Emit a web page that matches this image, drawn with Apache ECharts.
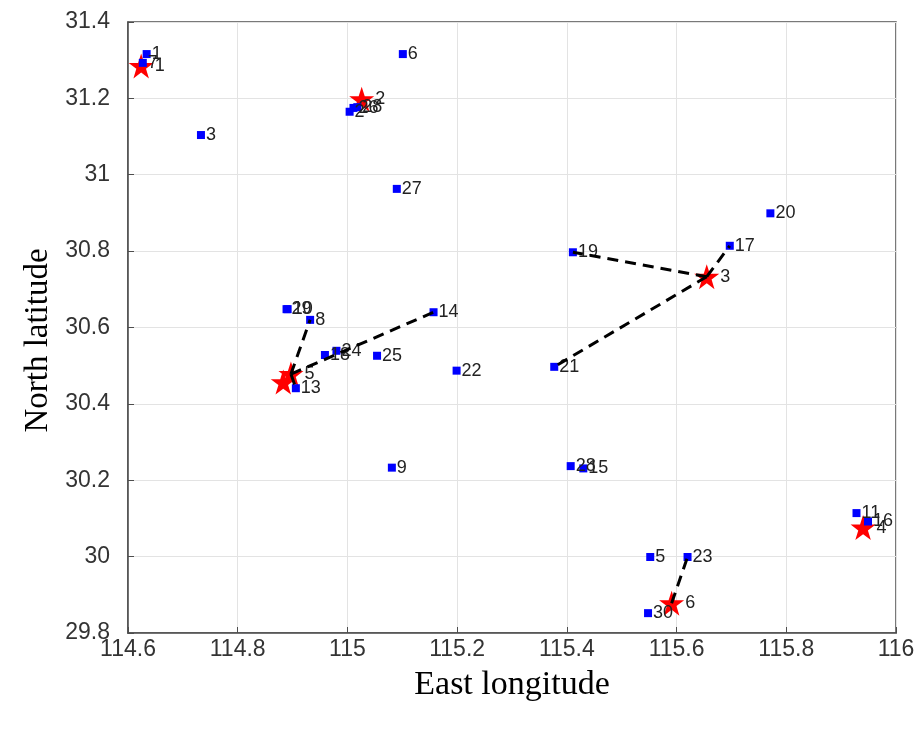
<!DOCTYPE html>
<html>
<head>
<meta charset="utf-8">
<script src="https://cdn.jsdelivr.net/npm/echarts@6/dist/echarts.min.js"></script>
<style>html,body{margin:0;padding:0;background:#fff;}#c{width:919px;height:731px;}</style>
</head>
<body>
<div id="c"></div>
<script>
// Customer points (blue squares)
const customerLabels = ['1','7','3','6','2','26','28','27','20','17','19','29','10','8','14','24','18','25','22','21','13','9','28','15','5','23','30','11','16'];
const customerLon = [114.634,114.627,114.733,115.101,115.004,115.011,115.018,115.090,115.771,115.697,115.411,114.889,114.891,114.932,115.157,114.980,114.959,115.054,115.199,115.377,114.906,115.081,115.407,115.430,115.552,115.620,115.548,115.928,115.949];
const customerLat = [31.316,31.293,31.104,31.316,31.165,31.175,31.177,30.963,30.899,30.814,30.797,30.648,30.648,30.620,30.640,30.539,30.528,30.526,30.487,30.497,30.441,30.233,30.237,30.231,29.999,29.999,29.852,30.114,30.092];

// Depots (red stars)
const depotLabels = ['1','2','3','4','','5','6'];
const depotLon = [114.624,115.026,115.655,115.940,114.883,114.897,115.591];
const depotLat = [31.285,31.198,30.733,30.076,30.457,30.478,29.878];

// Routes: [depot index, customer index]
const routes = [[2,10],[2,19],[2,9],[5,13],[5,14],[5,20],[6,25]];

const xTicks = [114.6,114.8,115,115.2,115.4,115.6,115.8,116];
const yTicks = [29.8,30,30.2,30.4,30.6,30.8,31,31.2,31.4];

const star = 'path://M50,0 L61.8,35.3 L98.6,35.3 L68.8,57.1 L80.2,92.7 L50,70.9 L19.8,92.7 L31.2,57.1 L1.4,35.3 L38.2,35.3 Z';

const labelStyle = {show:true, position:'right', distance:1, color:'#222', fontSize:18, fontFamily:'Liberation Sans, Arial, sans-serif', formatter: p => p.name};

const series = [];
series.push({
  type:'scatter', symbol: star, symbolSize:25, z:2,
  itemStyle:{color:'#ff0000', opacity:1},
  label:labelStyle,
  data: depotLon.map((x,i)=>({name:depotLabels[i], value:[x, depotLat[i]]}))
});
series.push({
  type:'scatter', symbol:'rect', symbolSize:8, z:3,
  itemStyle:{color:'#0000ff', opacity:1},
  label:labelStyle,
  data: customerLon.map((x,i)=>({name:customerLabels[i], value:[x, customerLat[i]]}))
});
routes.forEach(r=>{
  series.push({
    type:'line', symbol:'none', z:4, silent:true,
    lineStyle:{color:'#000', width:3, type:[11,7]},
    data:[[depotLon[r[0]], depotLat[r[0]]],[customerLon[r[1]], customerLat[r[1]]]]
  });
});

const axisCommon = {
  axisLine:{show:true, onZero:false, lineStyle:{color:'#4d4d4d', width:1.5}},
  axisTick:{show:true, inside:true, length:6, lineStyle:{color:'#4d4d4d'}},
  splitLine:{show:true, lineStyle:{color:'#e3e3e3', width:1}},
  axisLabel:{color:'#333', fontSize:23, fontFamily:'Liberation Sans, Arial, sans-serif'}
};

const chart = echarts.init(document.getElementById('c'), null, {renderer:'canvas'});
chart.setOption({
  backgroundColor:'#fff',
  animation:false,
  grid:{left:128, top:22, width:768, height:611, show:true, borderColor:'#4d4d4d', borderWidth:1.5, backgroundColor:'transparent'},
  xAxis:Object.assign({}, axisCommon, {
    type:'value', min:xTicks[0], max:xTicks[xTicks.length-1], interval:0.2,
    name:'East longitude', nameLocation:'middle', nameGap:35,
    nameTextStyle:{fontSize:34, fontFamily:'Liberation Serif, Times New Roman, serif', color:'#000'},
    axisLabel:Object.assign({}, axisCommon.axisLabel, {margin:5, formatter: v => String(+v.toFixed(1))})
  }),
  yAxis:Object.assign({}, axisCommon, {
    type:'value', min:yTicks[0], max:yTicks[yTicks.length-1], interval:0.2,
    name:'North latitude', nameLocation:'middle', nameGap:66, nameRotate:90,
    nameTextStyle:{fontSize:33, fontFamily:'Liberation Serif, Times New Roman, serif', color:'#000', padding:[0,26,0,0]},
    axisLabel:Object.assign({}, axisCommon.axisLabel, {margin:18, formatter: v => String(+v.toFixed(1))})
  }),
  series: series
});
</script>
</body>
</html>
